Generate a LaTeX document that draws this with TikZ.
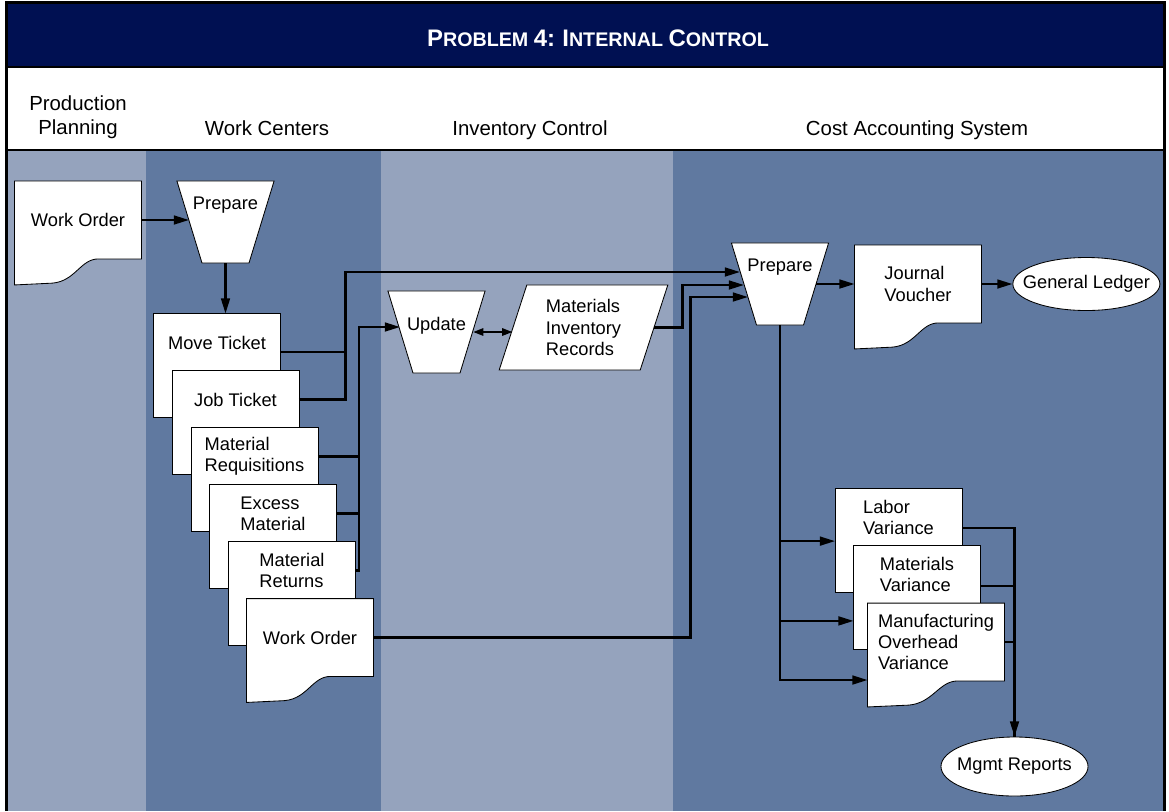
\documentclass[tikz,border=0pt]{standalone}
\usepackage{fontspec}
\setmainfont{Liberation Sans}
\usepackage{tikz}
\usetikzlibrary{shapes.geometric, arrows.meta, positioning, calc}
\definecolor{hdrnavy}{RGB}{0,16,82}
\definecolor{lanelight}{RGB}{149,163,189}
\definecolor{lanedark}{RGB}{96,121,160}

% document shape: box part holds the text, the page runs on below it
\makeatletter
\newdimen\docxa \newdimen\docya \newdimen\docxb \newdimen\docyb
\newdimen\docw \newdimen\docext \newdimen\docwav
\pgfkeys{/pgf/doc extra/.initial=0pt, /pgf/doc wave/.initial=0pt}
\pgfdeclareshape{docpage}{
  \inheritsavedanchors[from=rectangle]
  \inheritanchorborder[from=rectangle]
  \inheritanchor[from=rectangle]{center}
  \inheritanchor[from=rectangle]{text}
  \inheritanchor[from=rectangle]{mid}
  \inheritanchor[from=rectangle]{base}
  \inheritanchor[from=rectangle]{north}
  \inheritanchor[from=rectangle]{south}
  \inheritanchor[from=rectangle]{east}
  \inheritanchor[from=rectangle]{west}
  \inheritanchor[from=rectangle]{north east}
  \inheritanchor[from=rectangle]{north west}
  \inheritanchor[from=rectangle]{south east}
  \inheritanchor[from=rectangle]{south west}
  \backgroundpath{%
    \southwest \docxa=\pgf@x \docya=\pgf@y
    \northeast \docxb=\pgf@x \docyb=\pgf@y
    \docw=\docxb \advance\docw by -\docxa
    \pgfmathsetlength\docext{\pgfkeysvalueof{/pgf/doc extra}}%
    \pgfmathsetlength\docwav{\pgfkeysvalueof{/pgf/doc wave}}%
    \advance\docya by -\docext
    \pgfpathmoveto{\pgfqpoint{\docxa}{\docyb}}%
    \pgfpathlineto{\pgfqpoint{\docxb}{\docyb}}%
    \pgfpathlineto{\pgfqpoint{\docxb}{\docya}}%
    \ifdim\docwav>0pt
      \pgfpathlineto{\pgfpoint{\docxa+0.66*\docw}{\docya}}%
      \pgfpathcurveto{\pgfpoint{\docxa+0.52*\docw}{\docya}}%
        {\pgfpoint{\docxa+0.48*\docw}{\docya-0.85*\docwav}}%
        {\pgfpoint{\docxa+0.3*\docw}{\docya-0.93*\docwav}}%
      \pgfpathlineto{\pgfpoint{\docxa}{\docya-\docwav}}%
    \else
      \pgfpathlineto{\pgfqpoint{\docxa}{\docya}}%
    \fi
    \pgfpathclose
  }
}
\makeatother

\newcommand{\titlesc}[2]{{\fontsize{17}{18}\selectfont #1}{\fontsize{14}{18}\selectfont #2}}

\tikzset{
  ticket/.style={shape=docpage, draw=black, fill=white, line width=0.6pt,
    minimum width=3.15cm, minimum height=1.425cm, inner sep=1pt,
    doc extra=1.15cm, doc wave=0pt, align=left,
    font=\fontsize{13}{15}\selectfont},
  wavedoc/.style={ticket, minimum height=1.925cm, doc extra=0pt, doc wave=0.65cm},
  prepbox/.style={trapezium, trapezium angle=73, shape border rotate=180,
    inner xsep=0.5875cm, inner ysep=0.365cm,
    draw=black, fill=white, line width=0.6pt,
    text height=0.35cm, text depth=0.97cm, font=\fontsize{13}{15}\selectfont},
  recbox/.style={trapezium, trapezium left angle=72, trapezium right angle=108,
    minimum width=4.025cm, minimum height=2.125cm, inner sep=1pt,
    draw=black, fill=white, line width=0.6pt, align=left,
    font=\fontsize{13}{15}\selectfont},
  ledger/.style={ellipse, draw=black, fill=white, line width=0.6pt,
    minimum width=3.675cm, minimum height=1.325cm, inner xsep=-0.4cm, inner ysep=0pt,
    font=\fontsize{13}{15}\selectfont},
  lanehead/.style={font=\fontsize{14.5}{17}\selectfont, align=center},
  arrow/.style={-{Triangle[length=3.8mm, width=2.2mm]}, line width=1.6pt, color=black},
  dblarrow/.style={{Triangle[length=2.6mm, width=1.8mm]}-{Triangle[length=2.6mm, width=1.8mm]},
    line width=1.6pt, color=black},
  line/.style={line width=1.6pt, color=black}
}

\begin{document}
\begin{tikzpicture}[x=0.025cm, y=-0.025cm]
  \useasboundingbox (0,0) rectangle (1169,811);

  % Header and swim lanes
  \fill[hdrnavy] (6,2) rectangle (1165,67);
  \fill[white] (6,67) rectangle (1165,150);
  \fill[lanelight] (6,150) rectangle (146,811);
  \fill[lanedark] (146,150) rectangle (381,811);
  \fill[lanelight] (381,150) rectangle (673,811);
  \fill[lanedark] (673,150) rectangle (1165,811);
  \draw[line width=1.4pt] (6,67) -- (1165,67);
  \draw[line width=1.4pt] (6,150) -- (1165,150);
  \draw[line width=2.1pt] (6.5,811) -- (6.5,2.5) -- (1164.5,2.5) -- (1164.5,811);

  % Title
  \node[text=white, font=\bfseries\fontsize{14}{18}\selectfont] (title) at (598,38)
    {\titlesc{P}{ROBLEM} \titlesc{4:}{} \titlesc{I}{NTERNAL} \titlesc{C}{ONTROL}};

  % Lane titles
  \node[lanehead] (hpp) at (78,117) {Production\\Planning};
  \node[lanehead] (hwc) at (267,128) {Work Centers};
  \node[lanehead] (hic) at (530,130) {Inventory Control};
  \node[lanehead] (hca) at (917,130) {Cost Accounting System};

  % Production planning
  \node[wavedoc] (wo1) at (78,220) {Work Order};

  % Work centers
  \node[prepbox] (prep1) at (225.5,222) {\makebox[0pt]{Prepare}};
  \node[ticket] (mt) at (217,342.5) {Move Ticket};
  \node[ticket] (jt) at (235.5,399.5) {Job Ticket};
  \node[ticket] (mr) at (254.5,456.5) {Material\\Requisitions};
  \node[ticket] (em) at (273,513.5) {Excess\\Material};
  \node[ticket] (mret) at (292,570.5) {Material\\Returns};
  \node[wavedoc] (wo2) at (310,637.5) {Work Order};

  % Inventory control
  \node[prepbox, text depth=0.45cm, inner ysep=0.625cm] (upd) at (436.5,332) {\makebox[0pt]{Update}};
  \node[recbox] (mir) at (583.5,327.5) {Materials\\Inventory\\Records};

  % Cost accounting
  \node[prepbox] (prep2) at (780,284) {\makebox[0pt]{Prepare}};
  \node[wavedoc] (jv) at (918,284) {Journal\\Voucher};
  \node[ledger, right=0.775cm of jv] (gl) {General Ledger};
  \node[ticket] (lv) at (898.5,517.5) {Labor\\Variance};
  \node[ticket] (mv) at (917,574.5) {Materials\\Variance};
  \node[wavedoc, minimum width=3.4cm] (mov) at (936,642) {Manufacturing\\Overhead\\Variance};
  \node[ledger, minimum height=1.475cm] (mgmt) at (1014.5,766.5) {Mgmt Reports};

  % Connectors
  \coordinate (busA) at ($([yshift=-0.23cm]mt.east)+(65,0)$);
  \coordinate (busB) at (359,327);
  \draw[arrow] (wo1.east) -- (wo1.east -| prep1.west);
  \draw[arrow] (prep1.south) -- (prep1.south |- mt.north);
  \draw[arrow] ([yshift=-0.23cm]mt.east) -- (busA) |- ($(prep2.center)+(-40,-12)$);
  \draw[line] (jt.east) -| (busA);
  \draw[line] (mr.east) -| (busB);
  \draw[line] (em.east) -| (busB);
  \draw[arrow] (mret.east) -| (busB) -- (busB -| upd.west);
  \draw[dblarrow] (upd.east) -- (upd.east -| mir.west);
  \draw[arrow] (mir.east) -- ++(28,0) |- ($(prep2.center)+(-36,1)$);
  \draw[arrow] (wo2.east) -- ++(317,0) |- ($(prep2.center)+(-32,13)$);
  \draw[arrow] (prep2.east) -- (prep2.east -| jv.west);
  \draw[arrow] (jv.east) -- (gl.west);
  \draw[arrow] (prep2.south) |- ([yshift=-0.59cm]lv.west);
  \draw[arrow] (prep2.south) |- ([yshift=-1.16cm]mv.west);
  \draw[arrow] (prep2.south) |- ([yshift=-0.95cm]mov.west);
  \draw[line] ([yshift=-0.29cm]mv.east) -| (mgmt.north);
  \draw[line] (mov.east) -| (mgmt.north);
  \draw[arrow] ([yshift=-0.26cm]lv.east) -| (mgmt.north);
\end{tikzpicture}
\end{document}
